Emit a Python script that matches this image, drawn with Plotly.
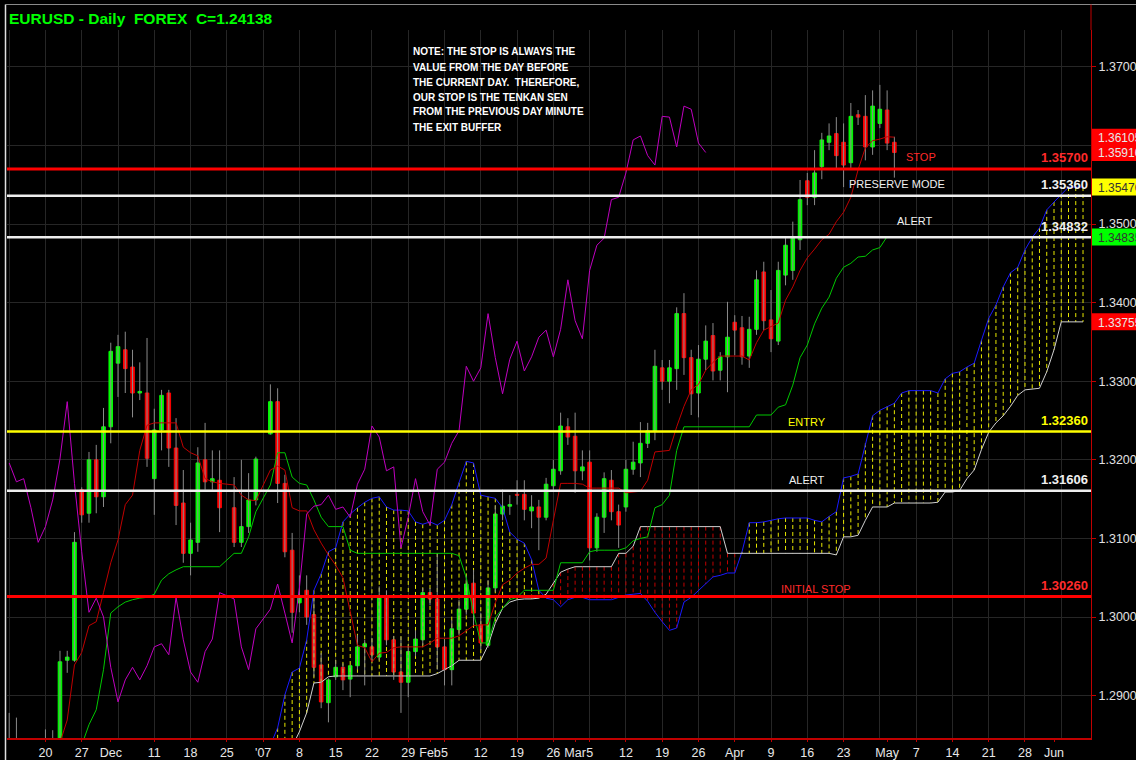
import plotly.graph_objects as go

# ---- bars: slot = weekday counted from Mon 20 Nov 2006 (slot 0); 25 Dec and 1 Jan carry no bar
NO_BAR = (25, 30)
bar_slot = [s for s in range(-5, 118) if s not in NO_BAR]

open_ = [
    1.2835, 1.2845, 1.2830, 1.2825, 1.2815, 1.2830, 1.2822, 1.2835, 1.2945, 1.2945,
    1.3162, 1.3132, 1.3200, 1.3153, 1.3242, 1.3323, 1.3340, 1.3318, 1.3285, 1.3285,
    1.3176, 1.3238, 1.3285, 1.3215, 1.3145, 1.3081, 1.3095, 1.3200, 1.3172, 1.3174,
    1.3139, 1.3095, 1.3115, 1.3149, 1.3233, 1.3274, 1.3170, 1.3085, 1.3018, 1.3034,
    1.3003, 1.2939, 1.2891, 1.2924, 1.2936, 1.2921, 1.2938, 1.2962, 1.2962, 1.2949,
    1.3027, 1.2971, 1.2930, 1.2917, 1.2956, 1.2971, 1.3031, 1.3023, 1.2962, 1.2933,
    1.2984, 1.3010, 1.3043, 1.2990, 1.2964, 1.3037, 1.3131, 1.3141, 1.3156, 1.3156,
    1.3135, 1.3140, 1.3127, 1.3167, 1.3186, 1.3242, 1.3230, 1.3186, 1.3197, 1.3088,
    1.3127, 1.3174, 1.3134, 1.3140, 1.3188, 1.3196, 1.3221, 1.3237, 1.3317, 1.3300,
    1.3316, 1.3386, 1.3330, 1.3285, 1.3328, 1.3358, 1.3314, 1.3331, 1.3375, 1.3368,
    1.3332, 1.3366, 1.3439, 1.3378, 1.3351, 1.3435, 1.3441, 1.3480, 1.3555, 1.3534,
    1.3573, 1.3604, 1.3615, 1.3604, 1.3578, 1.3639, 1.3637, 1.3598, 1.3628, 1.3645,
    1.3604,
]
high = [
    1.2878, 1.2872, 1.2840, 1.2835, 1.2838, 1.2857, 1.2856, 1.2957, 1.2957, 1.3108,
    1.3165, 1.3210, 1.3219, 1.3266, 1.3349, 1.3359, 1.3363, 1.3340, 1.3324, 1.3355,
    1.3265, 1.3289, 1.3289, 1.3253, 1.3187, 1.3120, 1.3216, 1.3247, 1.3212, 1.3212,
    1.3178, 1.3200, 1.3183, 1.3204, 1.3296, 1.3291, 1.3181, 1.3107, 1.3053, 1.3053,
    1.3025, 1.2954, 1.2922, 1.2945, 1.2941, 1.2939, 1.2977, 1.2971, 1.2973, 1.3039,
    1.3034, 1.2976, 1.2975, 1.2964, 1.2983, 1.3037, 1.3037, 1.3081, 1.2971, 1.2996,
    1.3022, 1.3053, 1.3060, 1.3005, 1.3047, 1.3142, 1.3162, 1.3155, 1.3174, 1.3174,
    1.3155, 1.3149, 1.3177, 1.3200, 1.3260, 1.3253, 1.3260, 1.3212, 1.3212, 1.3132,
    1.3184, 1.3187, 1.3143, 1.3200, 1.3223, 1.3248, 1.3247, 1.3340, 1.3327, 1.3327,
    1.3394, 1.3412, 1.3340, 1.3346, 1.3371, 1.3374, 1.3337, 1.3401, 1.3384, 1.3383,
    1.3382, 1.3441, 1.3452, 1.3416, 1.3452, 1.3482, 1.3503, 1.3556, 1.3565, 1.3594,
    1.3616, 1.3628, 1.3636, 1.3628, 1.3654, 1.3645, 1.3664, 1.3670, 1.3677, 1.3670,
    1.3611,
]
low = [
    1.2820, 1.2815, 1.2805, 1.2800, 1.2808, 1.2810, 1.2815, 1.2828, 1.2929, 1.2943,
    1.3120, 1.3120, 1.3132, 1.3140, 1.3221, 1.3280, 1.3285, 1.3254, 1.3276, 1.3191,
    1.3130, 1.3212, 1.3191, 1.3117, 1.3069, 1.3053, 1.3083, 1.3162, 1.3162, 1.3108,
    1.3089, 1.3089, 1.3107, 1.3142, 1.3232, 1.3145, 1.3076, 1.2980, 1.3006, 1.2990,
    1.2924, 1.2884, 1.2866, 1.2920, 1.2907, 1.2898, 1.2933, 1.2913, 1.2943, 1.2945,
    1.2964, 1.2920, 1.2878, 1.2898, 1.2950, 1.2964, 1.3015, 1.2933, 1.2913, 1.2913,
    1.2977, 1.3003, 1.2990, 1.2958, 1.2961, 1.3032, 1.3123, 1.3130, 1.3143, 1.3123,
    1.3113, 1.3085, 1.3123, 1.3162, 1.3181, 1.3219, 1.3158, 1.3174, 1.3072, 1.3083,
    1.3107, 1.3123, 1.3088, 1.3134, 1.3181, 1.3178, 1.3215, 1.3225, 1.3289, 1.3272,
    1.3289, 1.3308, 1.3257, 1.3254, 1.3314, 1.3301, 1.3301, 1.3286, 1.3333, 1.3321,
    1.3317, 1.3359, 1.3365, 1.3337, 1.3346, 1.3422, 1.3429, 1.3467, 1.3524, 1.3524,
    1.3557, 1.3594, 1.3569, 1.3547, 1.3569, 1.3626, 1.3581, 1.3588, 1.3622, 1.3594,
    1.3559,
]
close = [
    1.2845, 1.2830, 1.2825, 1.2815, 1.2830, 1.2822, 1.2835, 1.2943, 1.2949, 1.3095,
    1.3130, 1.3200, 1.3153, 1.3242, 1.3338, 1.3344, 1.3316, 1.3285, 1.3287, 1.3202,
    1.3238, 1.3282, 1.3215, 1.3142, 1.3081, 1.3098, 1.3196, 1.3172, 1.3176, 1.3139,
    1.3095, 1.3115, 1.3149, 1.3201, 1.3274, 1.3170, 1.3083, 1.3006, 1.3024, 1.3000,
    1.2936, 1.2892, 1.2920, 1.2936, 1.2920, 1.2938, 1.2962, 1.2966, 1.2952, 1.3025,
    1.2971, 1.2930, 1.2917, 1.2956, 1.2972, 1.3031, 1.3023, 1.2962, 1.2933, 1.2985,
    1.3010, 1.3042, 1.3005, 1.2967, 1.3037, 1.3131, 1.3141, 1.3143, 1.3155, 1.3137,
    1.3140, 1.3127, 1.3169, 1.3188, 1.3243, 1.3229, 1.3186, 1.3191, 1.3088, 1.3127,
    1.3176, 1.3134, 1.3117, 1.3188, 1.3197, 1.3221, 1.3237, 1.3319, 1.3300, 1.3317,
    1.3386, 1.3330, 1.3284, 1.3328, 1.3351, 1.3313, 1.3331, 1.3356, 1.3365, 1.3331,
    1.3366, 1.3429, 1.3377, 1.3354, 1.3441, 1.3473, 1.3482, 1.3531, 1.3534, 1.3565,
    1.3607, 1.3612, 1.3587, 1.3575, 1.3637, 1.3636, 1.3598, 1.3650, 1.3646, 1.3603,
    1.3591,
]

# Ichimoku lines on the bar slots
tenkan = [
    1.2830, 1.2830, 1.2830, 1.2832, 1.2832, 1.2835, 1.2835, 1.2840, 1.2869, 1.2939,
    1.2955, 1.2989, 1.2994, 1.3031, 1.3069, 1.3098, 1.3143, 1.3155, 1.3212, 1.3244,
    1.3247, 1.3247, 1.3247, 1.3247, 1.3216, 1.3209, 1.3205, 1.3176, 1.3172, 1.3170,
    1.3168, 1.3155, 1.3149, 1.3148, 1.3187, 1.3192, 1.3187, 1.3139, 1.3135, 1.3135,
    1.3111, 1.3094, 1.3079, 1.3066, 1.3050, 1.3006, 1.2964, 1.2961, 1.2943, 1.2954,
    1.2955, 1.2961, 1.2962, 1.2962, 1.2962, 1.2962, 1.2967, 1.2973, 1.2973, 1.2973,
    1.2976, 1.2983, 1.2989, 1.2990, 1.2990, 1.3018, 1.3041, 1.3047, 1.3056, 1.3062,
    1.3067, 1.3067, 1.3075, 1.3123, 1.3170, 1.3170, 1.3170, 1.3169, 1.3164, 1.3164,
    1.3164, 1.3164, 1.3164, 1.3158, 1.3159, 1.3160, 1.3174, 1.3210, 1.3211, 1.3212,
    1.3242, 1.3268, 1.3289, 1.3296, 1.3314, 1.3324, 1.3332, 1.3332, 1.3332, 1.3332,
    1.3327, 1.3349, 1.3365, 1.3370, 1.3374, 1.3403, 1.3420, 1.3441, 1.3457, 1.3468,
    1.3480, 1.3487, 1.3503, 1.3515, 1.3534, 1.3569, 1.3597, 1.3606, 1.3608, 1.3611,
    1.36105,
]
kijun = [
    1.2825, 1.2825, 1.2826, 1.2826, 1.2827, 1.2828, 1.2829, 1.2830, 1.2832, 1.2835,
    1.2837, 1.2863, 1.2882, 1.2933, 1.3005, 1.3013, 1.3019, 1.3022, 1.3024, 1.3025,
    1.3029, 1.3047, 1.3055, 1.3060, 1.3064, 1.3064, 1.3064, 1.3064, 1.3064, 1.3064,
    1.3081, 1.3081, 1.3102, 1.3134, 1.3168, 1.3209, 1.3209, 1.3178, 1.3170, 1.3168,
    1.3149, 1.3127, 1.3115, 1.3115, 1.3115, 1.3085, 1.3081, 1.3081, 1.3081, 1.3081,
    1.3081, 1.3081, 1.3081, 1.3081, 1.3081, 1.3081, 1.3081, 1.3081, 1.3081, 1.3081,
    1.3078, 1.3050, 1.3005, 1.2967, 1.2967, 1.2999, 1.3011, 1.3022, 1.3025, 1.3034,
    1.3034, 1.3034, 1.3034, 1.3034, 1.3069, 1.3069, 1.3069, 1.3069, 1.3083, 1.3085,
    1.3085, 1.3085, 1.3085, 1.3088, 1.3097, 1.3100, 1.3102, 1.3139, 1.3143, 1.3155,
    1.3212, 1.3242, 1.3242, 1.3242, 1.3242, 1.3242, 1.3242, 1.3242, 1.3242, 1.3242,
    1.3242, 1.3257, 1.3257, 1.3257, 1.3267, 1.3270, 1.3295, 1.3330, 1.3346, 1.3373,
    1.3393, 1.3407, 1.3431, 1.3445, 1.3450, 1.3458, 1.3459, 1.3467, 1.3470, 1.3484,
    1.34835,
]

# Cloud, plotted 26 bars ahead: slots 31 .. 143
cloud_slot = list(range(31, 144))
senkou_a = [
    1.2837, 1.2859, 1.2901, 1.2930, 1.2935, 1.2971, 1.3034, 1.3055, 1.3083, 1.3088,
    1.3121, 1.3131, 1.3139, 1.3146, 1.3151, 1.3153, 1.3140, 1.3136, 1.3136, 1.3135,
    1.3121, 1.3118, 1.3121, 1.3117, 1.3123, 1.3143, 1.3171, 1.3198, 1.3196, 1.3155,
    1.3153, 1.3151, 1.3139, 1.3108, 1.3099, 1.3094, 1.3073, 1.3034, 1.3024, 1.3022,
    1.3013, 1.3022, 1.3025, 1.3025, 1.3022, 1.3022, 1.3022, 1.3022, 1.3025, 1.3028,
    1.3029, 1.3030, 1.3020, 1.3006, 1.2994, 1.2983, 1.2986, 1.3019, 1.3025, 1.3034,
    1.3042, 1.3051, 1.3053, 1.3056, 1.3056, 1.3083, 1.3120, 1.3120, 1.3121, 1.3123,
    1.3125, 1.3126, 1.3126, 1.3126, 1.3126, 1.3123, 1.3121, 1.3128, 1.3134, 1.3177,
    1.3179, 1.3182, 1.3221, 1.3256, 1.3263, 1.3268, 1.3272, 1.3285, 1.3288, 1.3288,
    1.3288, 1.3288, 1.3285, 1.3303, 1.3310, 1.3312, 1.3318, 1.3323, 1.3352, 1.3380,
    1.3397, 1.3420, 1.3438, 1.3445, 1.3467, 1.3483, 1.3495, 1.3518, 1.3528, 1.3538,
    1.3547, 1.3547, 1.3547,
]
senkou_b = [
    1.2830, 1.2830, 1.2830, 1.2835, 1.2854, 1.2878, 1.2916, 1.2917, 1.2924, 1.2925,
    1.2925, 1.2925, 1.2925, 1.2925, 1.2925, 1.2925, 1.2925, 1.2925, 1.2925, 1.2925,
    1.2925, 1.2925, 1.2925, 1.2928, 1.2933, 1.2938, 1.2945, 1.2945, 1.2945, 1.2945,
    1.2964, 1.2992, 1.3011, 1.3019, 1.3022, 1.3023, 1.3023, 1.3024, 1.3029, 1.3043,
    1.3057, 1.3061, 1.3064, 1.3064, 1.3064, 1.3064, 1.3064, 1.3064, 1.3081, 1.3081,
    1.3090, 1.3115, 1.3115, 1.3115, 1.3115, 1.3115, 1.3115, 1.3115, 1.3115, 1.3115,
    1.3115, 1.3115, 1.3115, 1.3081, 1.3081, 1.3081, 1.3081, 1.3081, 1.3081, 1.3081,
    1.3081, 1.3081, 1.3081, 1.3081, 1.3081, 1.3081, 1.3081, 1.3081, 1.3079, 1.3102,
    1.3102, 1.3104, 1.3123, 1.3140, 1.3140, 1.3140, 1.3145, 1.3145, 1.3145, 1.3145,
    1.3145, 1.3145, 1.3146, 1.3159, 1.3159, 1.3161, 1.3176, 1.3187, 1.3213, 1.3235,
    1.3247, 1.3256, 1.3268, 1.3282, 1.3289, 1.3290, 1.3291, 1.3312, 1.3340, 1.33755,
    1.33755, 1.33755, 1.33755,
]

# Trade levels drawn across the chart
levels = [1.35700, 1.35360, 1.34832, 1.32360, 1.31606, 1.30260]
level_names = ["STOP", "PRESERVE MODE", "ALERT", "ENTRY", "ALERT", "INITIAL STOP"]

# Date axis labels (slot, text)
tick_slots = [0, 5, 9, 15, 20, 25, 30, 35, 40, 45, 50, 53, 55, 60, 65, 70, 73, 75,
              80, 85, 90, 95, 100, 105, 110, 116, 120, 125, 130, 135, 139]
tick_text = ["20", "27", "Dec", "11", "18", "25", "'07", "8", "15", "22", "29", "Feb",
             "5", "12", "19", "26", "Mar", "5", "12", "19", "26", "Apr", "9", "16",
             "23", "May", "7", "14", "21", "28", "Jun"]
price_ticks = [1.29, 1.30, 1.31, 1.32, 1.33, 1.34, 1.35, 1.37]

NOTE_LINES = [
    "NOTE: THE STOP IS ALWAYS THE",
    "VALUE FROM THE DAY BEFORE",
    "THE CURRENT DAY.  THEREFORE,",
    "OUR STOP IS THE TENKAN SEN",
    "FROM THE PREVIOUS DAY MINUTE",
    "THE EXIT BUFFER",
]

FONT = "Liberation Sans, Arial, sans-serif"
W, H = 1136, 760
M = dict(l=7, r=45, t=30, b=22, autoexpand=False)
PW = W - M["l"] - M["r"]
PH = H - M["t"] - M["b"]


def px_x(px):
    """page pixel -> paper x"""
    return (px - M["l"]) / PW


def px_y(py):
    """page pixel -> paper y"""
    return (H - M["b"] - py) / PH


fig = go.Figure()

# cloud hatching: one dashed vertical per slot between the two spans
yx, yy, rx, ry = [], [], [], []
for s, a, b in zip(cloud_slot, senkou_a, senkou_b):
    if a >= b:
        yx += [s, s, None]
        yy += [a, b, None]
    else:
        rx += [s, s, None]
        ry += [b, a, None]
fig.add_trace(go.Scatter(x=yx, y=yy, mode="lines", hoverinfo="skip",
                         line=dict(color="#e8e800", width=1, dash="4px,3px")))
fig.add_trace(go.Scatter(x=rx, y=ry, mode="lines", hoverinfo="skip",
                         line=dict(color="#c00000", width=1, dash="4px,3px")))
fig.add_trace(go.Scatter(x=cloud_slot, y=senkou_a, mode="lines", hoverinfo="skip",
                         line=dict(color="#1a1aff", width=1)))
fig.add_trace(go.Scatter(x=cloud_slot, y=senkou_b, mode="lines", hoverinfo="skip",
                         line=dict(color="#d0d0d0", width=1)))

# candle wicks
wx, wy = [], []
for s, h, l in zip(bar_slot, high, low):
    wx += [s, s, None]
    wy += [l, h, None]
fig.add_trace(go.Scatter(x=wx, y=wy, mode="lines", hoverinfo="skip",
                         line=dict(color="#8a8a8a", width=1)))

# candle bodies
fig.add_trace(go.Candlestick(
    x=bar_slot, open=open_, close=close,
    high=[max(o, c) for o, c in zip(open_, close)],
    low=[min(o, c) for o, c in zip(open_, close)],
    increasing=dict(line=dict(color="#00ff00", width=1), fillcolor="#00ff00"),
    decreasing=dict(line=dict(color="#ff0000", width=1), fillcolor="#ff0000"),
    whiskerwidth=0, hoverinfo="skip"))

fig.add_trace(go.Scatter(x=bar_slot, y=kijun, mode="lines", hoverinfo="skip",
                         line=dict(color="#00c800", width=1)))
fig.add_trace(go.Scatter(x=bar_slot, y=tenkan, mode="lines", hoverinfo="skip",
                         line=dict(color="#c00000", width=1)))
# chikou span: each close drawn 26 bars back
fig.add_trace(go.Scatter(x=bar_slot[:-26], y=close[26:], mode="lines", hoverinfo="skip",
                         line=dict(color="#c000c0", width=1)))

shapes = []
annotations = []

level_style = {
    "STOP": ("#ff0000", 3, "#ff2a2a"),
    "ENTRY": ("#ffff00", 2.5, "#ffff00"),
    "INITIAL STOP": ("#ff0000", 3, "#ff2a2a"),
}
name_px = [921, 897, 915, 807, 807, 816]
name_lift = [12, 12, 16, 10, 11, 8]
for lv, name, nx, lift in zip(levels, level_names, name_px, name_lift):
    col, lw, tcol = level_style.get(name, ("#eeeeee", 2.5, "#f0f0f0"))
    shapes.append(dict(type="line", xref="paper", yref="y", x0=0, x1=1, y0=lv, y1=lv,
                       line=dict(color=col, width=lw), layer="above"))
    annotations.append(dict(xref="paper", yref="y", x=px_x(1090), y=lv, text=f"<b>{lv:.5f}</b>",
                            showarrow=False, xanchor="right", yanchor="middle", yshift=11,
                            font=dict(family=FONT, size=13, color=tcol)))
    annotations.append(dict(xref="paper", yref="y", x=px_x(nx), y=lv, text=name,
                            showarrow=False, xanchor="center", yanchor="middle", yshift=lift,
                            font=dict(family=FONT, size=11, color=tcol)))

# value boxes on the price scale
boxes = [
    (tenkan[-1], "#ff0000", "#e8e8e8"),
    (close[-1], "#ff0000", "#e8e8e8"),
    (senkou_a[-1], "#ffff00", "#333333"),
    (kijun[-1], "#00ff00", "#333333"),
    (senkou_b[-1], "#ff0000", "#e8e8e8"),
]
half = 8.5 / 7860  # half box height in price units
for val, bg, fg in boxes:
    shapes.append(dict(type="rect", xref="paper", yref="y", x0=px_x(1092), x1=px_x(1137),
                       y0=val - half, y1=val + half, fillcolor=bg, line=dict(width=0),
                       layer="above"))
for val, bg, fg in boxes:
    annotations.append(dict(xref="paper", yref="y", x=px_x(1096), y=val, text=f"{val:.5f}",
                            showarrow=False, xanchor="left", yanchor="middle", yshift=-1,
                            font=dict(family=FONT, size=12, color=fg)))

# frame lines on the left and top, price-scale line carried up to the frame
shapes.append(dict(type="line", xref="paper", yref="paper", x0=px_x(5.5), x1=px_x(5.5),
                   y0=px_y(760), y1=px_y(4.5), line=dict(color="#e0e0e0", width=1.5)))
shapes.append(dict(type="line", xref="paper", yref="paper", x0=px_x(5), x1=px_x(1136),
                   y0=px_y(4.5), y1=px_y(4.5), line=dict(color="#8a8a8a", width=1)))
shapes.append(dict(type="line", xref="paper", yref="paper", x0=1, x1=1,
                   y0=1, y1=px_y(4.5), line=dict(color="#c00000", width=1)))

annotations.append(dict(xref="paper", yref="paper", x=px_x(7), y=px_y(18),
                        text="<b>EURUSD - Daily  FOREX  C=1.24138</b>", showarrow=False,
                        xanchor="left", yanchor="middle",
                        font=dict(family=FONT, size=15.5, color="#00ff00")))
for i, line in enumerate(NOTE_LINES):
    annotations.append(dict(xref="paper", yref="paper", x=px_x(411), y=px_y(52 + 15 * i),
                            text=f"<b>{line}</b>", showarrow=False,
                            xanchor="left", yanchor="middle",
                            font=dict(family=FONT, size=10, color="#ffffff")))

y_lo = 1.3785 - (H - M["b"]) / 7860
y_hi = 1.3785 - M["t"] / 7860

fig.update_layout(
    width=W, height=H, margin=M, showlegend=False,
    paper_bgcolor="#000000", plot_bgcolor="#000000",
    shapes=shapes, annotations=annotations,
    xaxis=dict(range=[-5.3, 144.1], tickmode="array", tickvals=tick_slots, ticktext=tick_text,
               tickangle=0, automargin=False,
               showgrid=False, zeroline=False, showline=True, linecolor="#c00000", linewidth=2,
               ticks="outside", ticklen=2, tickcolor="#c00000",
               tickfont=dict(family=FONT, size=12.5, color="#e8e8e8"),
               rangeslider=dict(visible=False),
               minor=dict(tickmode="linear", tick0=0, dtick=5, showgrid=True,
                          gridcolor="#262626", gridwidth=1, ticks="")),
    yaxis=dict(range=[y_lo, y_hi], side="right", tickmode="array", tickvals=price_ticks,
               tickformat=".5f", showgrid=False, zeroline=False, automargin=False,
               showline=True, linecolor="#c00000", linewidth=1, ticks="outside", ticklen=4,
               tickcolor="#c00000", tickfont=dict(family=FONT, size=12.5, color="#e0e0e0"),
               minor=dict(tickmode="linear", tick0=1.29, dtick=0.01, showgrid=True,
                          gridcolor="#262626", gridwidth=1, ticks="")),
)

fig.write_html("out.html", config={"displayModeBar": False})
